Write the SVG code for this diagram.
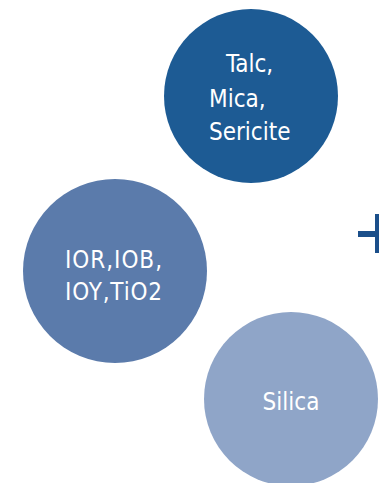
<svg xmlns="http://www.w3.org/2000/svg" width="379" height="483" viewBox="0 0 379 483">
<style>
.lbl{font-family:"DejaVu Sans Condensed","DejaVu Sans",sans-serif;font-size:24px;fill:#ffffff}
</style>
<rect width="379" height="483" fill="#ffffff"/>
<g id="node-talc">
<circle cx="251" cy="96" r="87" fill="#1d5b94"/>
<text class="lbl" x="226" y="72">Talc,</text>
<text class="lbl" x="209" y="107">Mica,</text>
<text class="lbl" x="209" y="140">Sericite</text>
</g>
<g id="node-ior">
<circle cx="115" cy="271" r="92" fill="#5b7bab"/>
<text class="lbl" x="65" y="268" textLength="97" lengthAdjust="spacing">IOR,IOB,</text>
<text class="lbl" x="65" y="300" textLength="97" lengthAdjust="spacing">IOY,TiO2</text>
</g>
<g id="node-silica">
<circle cx="291" cy="399" r="87" fill="#8fa5c8"/>
<text class="lbl" x="291" y="410" text-anchor="middle">Silica</text>
</g>
<g id="plus">
<rect x="358" y="231" width="22" height="6" fill="#1b4f8a"/>
<rect x="375" y="214" width="6" height="39" fill="#1b4f8a"/>
</g>
<g id="connectors"></g>
</svg>
